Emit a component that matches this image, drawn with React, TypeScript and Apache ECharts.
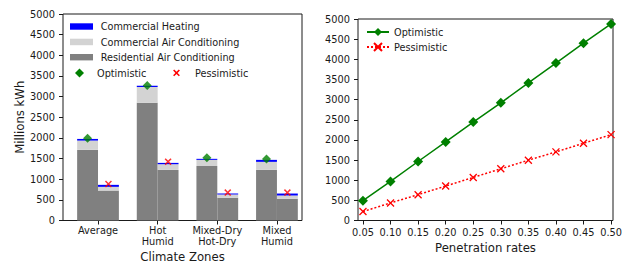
import React, { useEffect, useRef } from "react";
import * as echarts from "echarts";

// ---- Left chart data (Millions kWh) ----
const categories = ["Average", "Hot\nHumid", "Mixed-Dry\nHot-Dry", "Mixed\nHumid"];
const resACOpt = [1710, 2850, 1320, 1225];
const comACOpt = [225, 385, 148, 195];
const comHeatOpt = [40, 25, 25, 48];
const resACPess = [725, 1225, 550, 525];
const comACPess = [90, 138, 80, 80];
const comHeatPess = [48, 32, 24, 48];
const optMarker = [1990, 3270, 1520, 1490];
const pessMarker = [885, 1425, 675, 675];

// ---- Right chart data ----
const rates = [0.05, 0.1, 0.15, 0.2, 0.25, 0.3, 0.35, 0.4, 0.45, 0.5];
const optLine = [493, 970, 1464, 1949, 2442, 2919, 3413, 3906, 4400, 4877];
const pessLine = [222, 436, 641, 855, 1069, 1283, 1497, 1702, 1916, 2130];

const FONT = "DejaVu Sans";
const TXT = "#1a1a1a";
const GREEN = "#008000";
const RED = "#ff0000";
const BLUE = "#0000ff";
const LIGHT = "#d3d3d3";
const GREY = "#808080";
const XTHICK =
  "path://M1.5,0 L5,3.5 L8.5,0 L10,1.5 L6.5,5 L10,8.5 L8.5,10 L5,6.5 L1.5,10 L0,8.5 L3.5,5 L0,1.5 Z";
const XTHIN = "path://M0,0 L10,10 M10,0 L0,10";

const OFF = 0.175;
const BAR_W = 0.35;

export default function App() {
  const ref = useRef<HTMLDivElement>(null);
  useEffect(() => {
    if (!ref.current) return;
    const chart = echarts.init(ref.current, undefined, { renderer: "svg" });

    const groups = [
      { off: -OFF, res: resACOpt, com: comACOpt, heat: comHeatOpt },
      { off: OFF, res: resACPess, com: comACPess, heat: comHeatPess },
    ];

    // rows: [x, base, top]
    const segRows = (which: "res" | "com" | "heat") => {
      const rows: number[][] = [];
      groups.forEach((g) => {
        categories.forEach((_, i) => {
          const r = g.res[i];
          const c = g.com[i];
          const h = g.heat[i];
          if (which === "res") rows.push([i + g.off, 0, r]);
          if (which === "com") rows.push([i + g.off, r, r + c]);
          if (which === "heat") rows.push([i + g.off, r + c, r + c + h]);
        });
      });
      return rows;
    };

    const makeBar = (name: string, color: string, rows: number[][]) => ({
      type: "custom",
      name,
      xAxisIndex: 0,
      yAxisIndex: 0,
      silent: true,
      itemStyle: { color, borderWidth: 0 },
      encode: { x: 0, y: [1, 2] },
      data: rows,
      renderItem: (_params: any, api: any) => {
        const x = api.value(0);
        const b = api.value(1);
        const t = api.value(2);
        const pTop = api.coord([x, t]);
        const pBase = api.coord([x, b]);
        const w = api.size([BAR_W, 0])[0];
        return {
          type: "rect",
          shape: { x: pTop[0] - w / 2, y: pTop[1], width: w, height: pBase[1] - pTop[1] },
          style: { fill: color, stroke: "none", lineWidth: 0 },
        };
      },
      z: 2,
    });

    const axisLabelStyle = { fontFamily: FONT, fontSize: 9.8, color: TXT };
    const nameStyle = { fontFamily: FONT, fontSize: 11.7, color: TXT };
    const tick = { show: true, inside: false, length: 4, lineStyle: { color: TXT, width: 1 } };
    const noLine = { show: false, onZero: false };
    const legText = { fontFamily: FONT, fontSize: 9.7, fill: TXT };

    const legendGraphics: any[] = [
      { type: "rect", shape: { x: 70, y: 23.3, width: 23, height: 6.4 }, style: { fill: BLUE } },
      { type: "text", x: 100.7, y: 26.5, style: { ...legText, text: "Commercial Heating", verticalAlign: "middle" } },
      { type: "rect", shape: { x: 70, y: 38.7, width: 23, height: 6.5 }, style: { fill: LIGHT } },
      { type: "text", x: 100.7, y: 42, style: { ...legText, text: "Commercial Air Conditioning", verticalAlign: "middle" } },
      { type: "rect", shape: { x: 70, y: 54, width: 23, height: 6.4 }, style: { fill: GREY } },
      { type: "text", x: 100.7, y: 57.2, style: { ...legText, text: "Residential Air Conditioning", verticalAlign: "middle" } },
      {
        type: "polygon",
        shape: { points: [[79.5, 68.5], [84, 73], [79.5, 77.5], [75, 73]] },
        style: { fill: GREEN },
      },
      { type: "text", x: 97, y: 73, style: { ...legText, text: "Optimistic", verticalAlign: "middle" } },
      {
        type: "polygon",
        shape: {
          points: [
            [174.2, 69.5], [176.5, 71.8], [178.8, 69.5], [179.9, 70.6], [177.6, 72.9], [179.9, 75.2],
            [178.8, 76.3], [176.5, 74], [174.2, 76.3], [173.1, 75.2], [175.4, 72.9], [173.1, 70.6],
          ],
        },
        style: { fill: RED },
      },
      { type: "text", x: 195, y: 73, style: { ...legText, text: "Pessimistic", verticalAlign: "middle" } },
    ];

    chart.setOption({
      animation: false,
      backgroundColor: "#ffffff",
      grid: [
        { left: 63, top: 14, width: 239, bottom: 42.5, show: true, borderColor: TXT, borderWidth: 1, backgroundColor: "transparent", outerBoundsMode: "none", containLabel: false },
        { left: 358, top: 19, width: 255, bottom: 42.5, show: true, borderColor: TXT, borderWidth: 1, backgroundColor: "transparent", outerBoundsMode: "none", containLabel: false },
      ],
      xAxis: [
        {
          type: "value",
          gridIndex: 0,
          min: -0.587,
          max: 3.42,
          axisLine: noLine,
          splitLine: { show: false },
          axisTick: { ...tick, customValues: [0, 1, 2, 3] },
          axisLabel: {
            ...axisLabelStyle,
            customValues: [0, 1, 2, 3],
            formatter: (v: number) => categories[Math.round(v)] ?? "",
            lineHeight: 11,
            margin: 4,
          },
          name: "Climate Zones",
          nameLocation: "middle",
          nameGap: 27,
          nameTextStyle: nameStyle,
        },
        {
          type: "value",
          gridIndex: 1,
          min: 0.041,
          max: 0.5035,
          axisLine: noLine,
          splitLine: { show: false },
          axisTick: { ...tick, customValues: rates },
          axisLabel: {
            ...axisLabelStyle,
            customValues: rates,
            formatter: (v: number) => v.toFixed(2),
            margin: 7,
          },
          name: "Penetration rates",
          nameLocation: "middle",
          nameGap: 21,
          nameTextStyle: nameStyle,
        },
      ],
      yAxis: [
        {
          type: "value",
          gridIndex: 0,
          min: 0,
          max: 5000,
          interval: 500,
          axisLine: noLine,
          splitLine: { show: false },
          axisTick: tick,
          axisLabel: { ...axisLabelStyle, margin: 8, formatter: (v: number) => String(v) },
          name: "Millions kWh",
          nameLocation: "middle",
          nameGap: 37,
          nameTextStyle: nameStyle,
        },
        {
          type: "value",
          gridIndex: 1,
          min: 0,
          max: 5000,
          interval: 500,
          axisLine: noLine,
          splitLine: { show: false },
          axisTick: tick,
          axisLabel: { ...axisLabelStyle, margin: 8, formatter: (v: number) => String(v) },
        },
      ],
      legend: [
        {
          orient: "vertical",
          padding: 0,
          selectedMode: false,
          textStyle: { fontFamily: FONT, fontSize: 9.7, color: TXT, lineHeight: 12 },
          data: ["Optimistic", "Pessimistic"],
          left: 366,
          top: 26,
          itemWidth: 22,
          itemHeight: 10,
          itemGap: 3,
          itemTextGap: 7,
        },
      ],
      graphic: legendGraphics,
      series: [
        {
          type: "line",
          name: "Optimistic",
          xAxisIndex: 1,
          yAxisIndex: 1,
          data: rates.map((r, i) => [r, optLine[i]]),
          symbol: "diamond",
          symbolSize: 10,
          showAllSymbol: true,
          lineStyle: { color: GREEN, width: 1.5 },
          itemStyle: { color: GREEN },
          clip: true,
        },
        {
          type: "line",
          name: "Pessimistic",
          xAxisIndex: 1,
          yAxisIndex: 1,
          data: rates.map((r, i) => [r, pessLine[i]]),
          symbol: XTHIN,
          symbolSize: 7,
          showAllSymbol: true,
          lineStyle: { color: RED, width: 1.5, type: [2, 2] },
          itemStyle: { color: "rgba(0,0,0,0)", borderColor: RED, borderWidth: 1.3 },
          clip: true,
        },
        makeBar("Residential Air Conditioning", GREY, segRows("res")),
        makeBar("Commercial Air Conditioning", LIGHT, segRows("com")),
        makeBar("Commercial Heating", BLUE, segRows("heat")),
        {
          type: "scatter",
          name: "Optimistic markers",
          xAxisIndex: 0,
          yAxisIndex: 0,
          data: categories.map((_, i) => [i - OFF, optMarker[i]]),
          symbol: "diamond",
          symbolSize: 9,
          itemStyle: { color: GREEN },
          z: 5,
        },
        {
          type: "scatter",
          name: "Pessimistic markers",
          xAxisIndex: 0,
          yAxisIndex: 0,
          data: categories.map((_, i) => [i + OFF, pessMarker[i]]),
          symbol: XTHICK,
          symbolSize: 7,
          itemStyle: { color: RED },
          z: 5,
        },
      ],
    });
    return () => chart.dispose();
  }, []);
  return (
    <div
      ref={ref}
      style={{ position: "fixed", left: 0, top: 0, width: 631, height: 263, background: "#fff" }}
    />
  );
}
